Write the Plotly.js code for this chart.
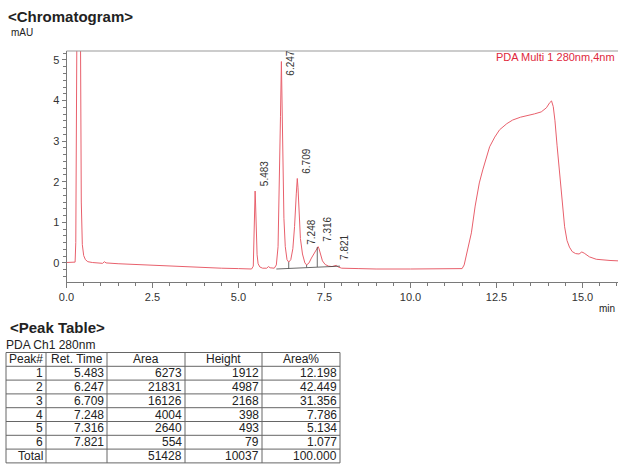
<!DOCTYPE html>
<html>
<head>
<meta charset="utf-8">
<script src="https://cdn.plot.ly/plotly-3.0.1.min.js"></script>
<style>html,body{margin:0;padding:0;background:#fff;}#chart{width:618px;height:467px;}</style>
</head>
<body>
<div id="chart"></div>
<script>
// ---------- chromatogram trace ----------
const timeMin = [0.00,0.10,0.20,0.25,0.27,0.29,0.31,0.34,0.37,0.39,0.41,0.43,0.46,0.50,0.55,0.62,0.75,0.90,1.05,1.10,1.15,1.50,2.00,2.50,3.00,3.50,4.00,4.50,5.00,5.38,5.43,5.455,5.475,5.483,5.495,5.515,5.54,5.57,5.62,5.70,5.82,5.87,5.92,6.04,6.10,6.15,6.19,6.22,6.247,6.265,6.29,6.32,6.36,6.41,6.46,6.52,6.58,6.63,6.68,6.709,6.73,6.76,6.80,6.86,6.93,6.98,7.05,7.12,7.20,7.248,7.28,7.316,7.34,7.38,7.44,7.52,7.62,7.72,7.80,7.84,7.90,8.00,8.50,9.00,10.00,11.00,11.50,11.56,11.65,11.77,11.88,12.00,12.10,12.20,12.30,12.45,12.59,12.80,12.97,13.20,13.37,13.60,13.80,13.95,14.05,14.10,14.15,14.20,14.26,14.33,14.40,14.48,14.55,14.62,14.70,14.80,14.90,14.98,15.05,15.20,15.40,15.60,15.80,16.05];
const absMAU  = [0.01,0.01,0.01,0.02,0.5,3.5,8.0,12.0,12.0,8.0,4.0,1.5,0.45,0.18,0.08,0.03,0.01,0.00,-0.01,0.03,0.00,-0.02,-0.04,-0.06,-0.08,-0.10,-0.12,-0.13,-0.14,-0.15,-0.08,0.6,1.6,1.77,1.5,0.7,0.2,-0.02,-0.10,-0.13,-0.13,-0.09,-0.12,-0.13,-0.05,0.4,1.8,3.6,4.96,4.2,2.4,1.1,0.4,0.08,0.02,0.08,0.35,0.9,1.7,2.08,1.85,1.2,0.6,0.22,0.0,-0.05,0.0,0.12,0.25,0.32,0.36,0.40,0.35,0.2,0.05,-0.04,-0.08,-0.09,-0.07,-0.06,-0.10,-0.13,-0.14,-0.15,-0.15,-0.14,-0.14,-0.05,0.3,0.74,1.4,1.97,2.29,2.6,2.86,3.1,3.28,3.43,3.52,3.59,3.62,3.67,3.72,3.82,3.95,3.99,3.85,3.5,2.9,2.2,1.5,0.89,0.55,0.39,0.28,0.23,0.22,0.27,0.24,0.15,0.09,0.07,0.06,0.05];

// integration baseline and drop lines (null separates segments)
const baseT = [6.10,7.95,null,6.46,6.46,null,6.98,6.98,null,7.29,7.29];
const baseY = [-0.15,-0.08,null,-0.14,0.02,null,-0.11,-0.05,null,-0.10,0.39];

// ---------- peak table ----------
const peakNo   = [1,2,3,4,5,6];
const retTime  = [5.483,6.247,6.709,7.248,7.316,7.821];
const peakArea = [6273,21831,16126,4004,2640,554];
const peakHeight = [1912,4987,2168,398,493,79];
const areaPct  = [12.198,42.449,31.356,7.786,5.134,1.077];
const totalArea = 51428, totalHeight = 10037, totalPct = 100.000;
const tableHeader = ['Peak#','Ret. Time','Area','Height','Area%'];

// ---------- layout helpers ----------
const W = 618, H = 467;
const PX = v => v / W;
const PY = v => 1 - v / H;
const FONT = 'Liberation Sans, Arial, sans-serif';
const INK = '#222';
const AXC = '#7a7a7a';

const plotL = 66.5, plotR = 618, plotT = 51, plotB = 282;

const traces = [
  {x: timeMin, y: absMAU, type: 'scatter', mode: 'lines',
   line: {color: '#e8606c', width: 1}, hoverinfo: 'skip', showlegend: false},
  {x: baseT, y: baseY, type: 'scatter', mode: 'lines', connectgaps: false,
   line: {color: '#444', width: 0.8}, hoverinfo: 'skip', showlegend: false}
];

function curveAt(t){
  let best = 0;
  for (let i = 0; i < timeMin.length; i++) if (Math.abs(timeMin[i]-t) < Math.abs(timeMin[best]-t)) best = i;
  return absMAU[best];
}

const annotations = [];
const shapes = [];

// peak labels
const yLabelMax = 4.5;
retTime.forEach((t, i) => {
  const close = i < retTime.length-1 && (retTime[i+1]-t) < 0.1;
  annotations.push({
    x: t, y: Math.min(curveAt(t), yLabelMax), xref: 'x', yref: 'y',
    text: t.toFixed(3), showarrow: false, textangle: -90,
    xanchor: close ? 'right' : 'left', yanchor: 'bottom',
    xshift: close ? 3 : 2, yshift: 3,
    font: {family: FONT, size: 10, color: '#333'}
  });
});

// free texts
annotations.push({x: PX(9), y: PY(33), xref:'paper', yref:'paper', text:'mAU', showarrow:false,
  xanchor:'left', yanchor:'middle', font:{family:FONT, size:10, color:INK}});
annotations.push({x: PX(617), y: PY(308), xref:'paper', yref:'paper', text:'min', showarrow:false,
  xanchor:'right', yanchor:'middle', font:{family:FONT, size:10, color:INK}});
annotations.push({x: PX(494), y: PY(57), xref:'paper', yref:'paper', text:'PDA Multi 1 280nm,4nm', showarrow:false,
  xanchor:'left', yanchor:'middle', font:{family:FONT, size:11, color:'#e0283c'}});
annotations.push({x: PX(8), y: PY(327), xref:'paper', yref:'paper', text:'<b>&lt;Peak Table&gt;</b>', showarrow:false,
  xanchor:'left', yanchor:'middle', font:{family:FONT, size:15, color:INK}});
annotations.push({x: PX(5), y: PY(345), xref:'paper', yref:'paper', text:'PDA Ch1 280nm', showarrow:false,
  xanchor:'left', yanchor:'middle', borderpad:0, font:{family:FONT, size:12, color:INK}});

// table
const colEdges = [6, 46, 107, 185, 262, 340];
const rowTop = 352.5, rowH = 13.8;
const rows = [tableHeader];
peakNo.forEach((n, i) => rows.push([String(n), retTime[i].toFixed(3), String(peakArea[i]), String(peakHeight[i]), areaPct[i].toFixed(3)]));
rows.push(['Total', '', String(totalArea), String(totalHeight), totalPct.toFixed(3)]);

rows.forEach((row, r) => {
  const yc = rowTop + rowH * (r + 0.5);
  row.forEach((txt, c) => {
    if (!txt) return;
    const header = r === 0;
    annotations.push({
      x: PX(header ? (colEdges[c]+colEdges[c+1])/2 : colEdges[c+1]-2), y: PY(yc),
      xref:'paper', yref:'paper', text: txt, showarrow:false,
      xanchor: header ? 'center' : 'right', yanchor:'middle', borderpad:0,
      font:{family:FONT, size:12, color:INK}
    });
  });
});
for (let r = 0; r <= rows.length; r++) {
  const y = PY(rowTop + rowH * r);
  shapes.push({type:'line', xref:'paper', yref:'paper', x0:PX(colEdges[0]), x1:PX(colEdges[colEdges.length-1]), y0:y, y1:y,
    line:{color:'#666', width:1}});
}
colEdges.forEach(cx => {
  shapes.push({type:'line', xref:'paper', yref:'paper', x0:PX(cx), x1:PX(cx), y0:PY(rowTop), y1:PY(rowTop + rowH*rows.length),
    line:{color:'#666', width:1}});
});

// top frame line of the chromatogram
shapes.push({type:'line', xref:'paper', yref:'paper', x0:PX(plotL), x1:1, y0:PY(plotT), y1:PY(plotT),
  line:{color:'#999', width:1}});

const layout = {
  width: W, height: H,
  margin: {l:0, r:0, t:0, b:0, pad:0},
  paper_bgcolor: '#fff', plot_bgcolor: '#fff',
  showlegend: false,
  title: {text: '<b>&lt;Chromatogram&gt;</b>', x: PX(8), xref:'paper', xanchor:'left',
          y: PY(17), yref:'paper', yanchor:'middle', font:{family:FONT, size:15, color:INK}},
  xaxis: {
    domain: [PX(plotL), 1], range: [0, (plotR-plotL)/34.4],
    dtick: 2.5, tick0: 0, tickformat: '.1f',
    ticks: 'outside', ticklen: 5, tickwidth: 1, tickcolor: AXC,
    showline: true, linecolor: AXC, linewidth: 1,
    showgrid: false, zeroline: false, fixedrange: true,
    minor: {dtick: 0.5, tick0: 0, ticks: 'outside', ticklen: 3, tickcolor: AXC, showgrid: false},
    tickfont: {family: FONT, size: 11, color: '#333'}
  },
  yaxis: {
    domain: [PY(plotB), PY(plotT)], range: [-0.47, 5.22],
    dtick: 1, tick0: 0,
    ticks: 'outside', ticklen: 4, tickwidth: 1, tickcolor: AXC,
    showline: true, linecolor: AXC, linewidth: 1,
    showgrid: false, zeroline: false, fixedrange: true,
    minor: {dtick: 1/6, tick0: 0, ticks: 'outside', ticklen: 3, tickcolor: AXC, showgrid: false},
    tickfont: {family: FONT, size: 11, color: '#333'}
  },
  annotations: annotations,
  shapes: shapes
};

Plotly.newPlot('chart', traces, layout, {staticPlot: true, displayModeBar: false});
</script>
</body>
</html>
